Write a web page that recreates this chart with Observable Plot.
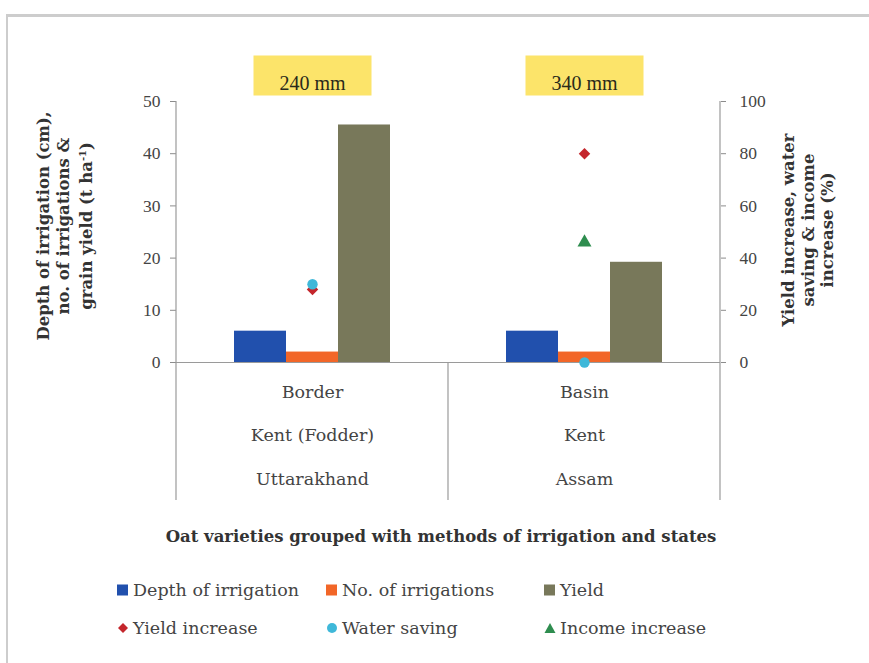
<!DOCTYPE html>
<html>
<head>
<meta charset="utf-8">
<script src="https://cdn.jsdelivr.net/npm/d3@7"></script>
<script src="https://cdn.jsdelivr.net/npm/@observablehq/plot@0.6"></script>
<style>
  body { margin: 0; width: 869px; height: 663px; overflow: hidden; position: relative; background: #fff;
         font-family: "DejaVu Serif", serif; color: #333; }
  #frame { position: absolute; left: 6px; top: 14px; width: 900px; height: 700px;
           border-top: 3px solid #cdcdcd; border-left: 2px solid #cdcdcd; }
  #chart { position: absolute; left: 0; top: 0; }
  .ytitle { position: absolute; font-weight: bold; font-size: 16.5px; line-height: 19.5px; text-align: center;
            white-space: nowrap; color: #333; transform: translate(-50%, -50%) rotate(-90deg); }
  .xtitle { position: absolute; left: 441px; top: 536px; transform: translate(-50%, -50%);
            font-weight: bold; font-size: 16.5px; white-space: nowrap; color: #333; }
  #legend { position: absolute; left: 117px; top: 578px; display: grid;
            grid-template-columns: 209px 218px 200px; grid-auto-rows: 38px; font-size: 17.5px; color: #444; }
  #legend .item { display: flex; align-items: center; height: 24px; white-space: nowrap; }
  #legend svg { margin-right: 4px; }
</style>
</head>
<body>
<div id="frame"></div>
<div id="chart"></div>
<div class="ytitle" style="left:65px; top:226px;">Depth of irrigation (cm),<br>no. of irrigations &amp;<br>grain yield (t ha<sup style="font-size:10px">-1</sup>)</div>
<div class="ytitle" style="left:808px; top:230px;">Yield increase, water<br>saving &amp; income<br>increase (%)</div>
<div class="xtitle">Oat varieties grouped with methods of irrigation and states</div>
<div id="legend"></div>
<script>
// Irrigation method, oat variety and state for each group
const methods = ["Border", "Basin"];
const varieties = ["Kent (Fodder)", "Kent"];
const states = ["Uttarakhand", "Assam"];
const rainfall = ["240 mm", "340 mm"];

// Left axis series
const depthOfIrrigation = [6, 6];      // cm
const noOfIrrigations = [2, 2];
const yieldValues = [45.5, 19.2];      // t/ha

// Right axis series (%)
const yieldIncrease = [28, 80];
const waterSaving = [30, 0];
const incomeIncrease = [null, 46];

const barSeries = ["Depth of irrigation", "No. of irrigations", "Yield"];
const pointSeries = ["Yield increase", "Water saving", "Income increase"];
const barColors = ["#2150ad", "#f26628", "#78785a"];
const pointColors = ["#c4262c", "#3fb8d9", "#2e8d4f"];
const pointSymbols = ["diamond2", "circle", "triangle"];

const leftTicks = [0, 10, 20, 30, 40, 50];
const rightTicks = [0, 20, 40, 60, 80, 100];

// Tidy tables built from the arrays above
const barSource = [depthOfIrrigation, noOfIrrigations, yieldValues];
const bars = methods.flatMap((m, i) => barSeries.map((s, j) => ({method: m, series: s, value: barSource[j][i]})));
const pointSource = [yieldIncrease, waterSaving, incomeIncrease];
const points = methods.flatMap((m, i) => pointSeries.map((s, j) => ({method: m, series: s, value: pointSource[j][i]})))
  .filter(d => d.value != null);
const groupInfo = methods.map((m, i) => ({method: m, variety: varieties[i], state: states[i], rain: rainfall[i]}));

// The right axis shares the left scale: 100 % sits at 50
const pctToLeft = v => v / 2;

const labelBox = {draw(context) { context.rect(-59, -20, 118, 40); }};

const chart = Plot.plot({
  width: 869,
  height: 520,
  marginLeft: 175,
  marginRight: 149,
  marginTop: 101,
  marginBottom: 158,
  style: {fontFamily: "DejaVu Serif, serif", background: "transparent", overflow: "visible"},
  fx: {domain: methods, padding: 0, axis: null},
  x: {domain: barSeries, paddingInner: 0, paddingOuter: 1.11, axis: null},
  y: {domain: [0, 50]},
  color: {domain: [...barSeries, ...pointSeries], range: [...barColors, ...pointColors]},
  symbol: {domain: pointSeries, range: pointSymbols},
  marks: [
    Plot.barY(bars, {fx: "method", x: "series", y: "value", fill: "series"}),
    Plot.ruleY([0], {stroke: "#9a9a9a", strokeWidth: 1.2}),
    Plot.dot(points, {fx: "method", y: d => pctToLeft(d.value), symbol: "series", fill: "series", r: 5.2, stroke: "none"}),
    Plot.axisY({anchor: "left", ticks: leftTicks, tickSize: 6, tickPadding: 10, stroke: "#8c8c8c",
      fill: "#444", fontSize: 17.5, fontFamily: "Liberation Serif, serif", label: null}),
    Plot.axisY({anchor: "right", ticks: rightTicks.map(pctToLeft), tickFormat: d => d * 2, tickSize: 5,
      tickPadding: 14, stroke: "#8c8c8c", fill: "#444", fontSize: 17.5, fontFamily: "Liberation Serif, serif", label: null}),
    Plot.dot(groupInfo, {fx: "method", frameAnchor: "top", dy: -26, symbol: labelBox, r: 1, fill: "#fce46a", stroke: "none"}),
    Plot.text(groupInfo, {fx: "method", frameAnchor: "top", dy: -26, text: "rain", fontSize: 20,
      fontFamily: "Liberation Serif, serif", fill: "#2a2a1a"}),
    Plot.text(groupInfo, {fx: "method", frameAnchor: "bottom", dy: 4, lineAnchor: "top", lineHeight: 2.5,
      text: d => [d.method, d.variety, d.state].join("\n"), fontSize: 17.5, fill: "#444"})
  ]
});
document.getElementById("chart").append(chart);

// Axis lines and group dividers of the multi-level category axis
const fx = chart.scale("fx"), y = chart.scale("y");
const svg = d3.select(chart.tagName === "svg" ? chart : chart.querySelector("svg"));
const edges = [...methods.map(m => fx.apply(m)), fx.apply(methods[methods.length - 1]) + fx.bandwidth];
const dividerDepth = 138;
svg.append("g").attr("stroke", "#9a9a9a").attr("stroke-width", 1.2)
  .selectAll("line").data(edges).join("line")
  .attr("x1", d => d).attr("x2", d => d)
  .attr("y1", (d, i) => (i === 0 || i === edges.length - 1) ? y.apply(50) : y.apply(0))
  .attr("y2", y.apply(0) + dividerDepth);

// Legend
const legend = d3.select("#legend");
const shapes = {
  square: (s, c) => s.append("rect").attr("x", 0).attr("y", 0.5).attr("width", 11).attr("height", 11).attr("fill", c),
  diamond2: (s, c) => s.append("path").attr("d", "M6,1L11,6L6,11L1,6Z").attr("fill", c),
  circle: (s, c) => s.append("circle").attr("cx", 6).attr("cy", 6).attr("r", 5).attr("fill", c),
  triangle: (s, c) => s.append("path").attr("d", "M6,1L11.5,11L0.5,11Z").attr("fill", c)
};
const legendItems = [
  ...barSeries.map((s, i) => ({name: s, color: barColors[i], shape: "square"})),
  ...pointSeries.map((s, i) => ({name: s, color: pointColors[i], shape: pointSymbols[i]}))
];
legendItems.forEach(d => {
  const item = legend.append("div").attr("class", "item");
  const s = item.append("svg").attr("width", 12).attr("height", 12);
  shapes[d.shape](s, d.color);
  item.append("span").text(d.name);
});
</script>
</body>
</html>
